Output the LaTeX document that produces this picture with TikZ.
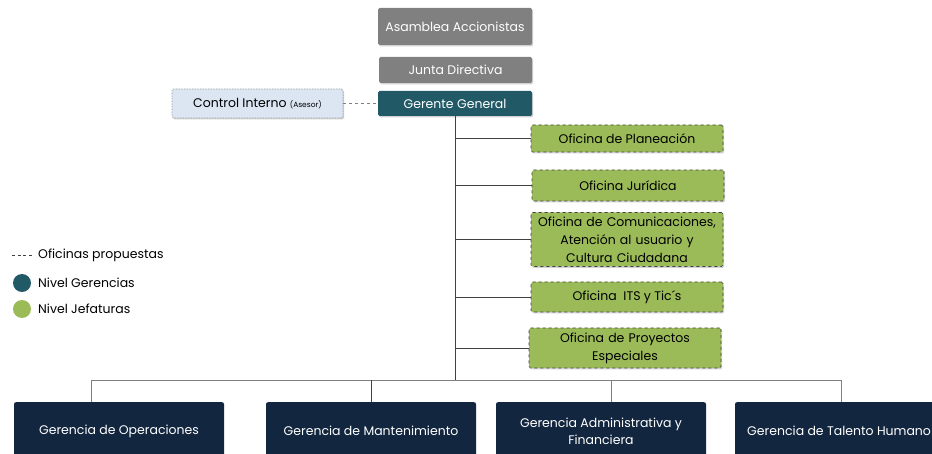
\documentclass[tikz,border=0pt]{standalone}
\usepackage{fontspec}
\setmainfont{Poppins}
\usetikzlibrary{shadows}
\definecolor{grayb}{HTML}{808080}
\definecolor{tealb}{HTML}{215967}
\definecolor{navyb}{HTML}{13263F}
\definecolor{greenb}{HTML}{9BBB59}
\definecolor{lblue}{HTML}{DCE6F2}
\definecolor{linec}{HTML}{404040}
\tikzset{
  x=1pt,y=-1pt,
  every node/.style={font=\fontsize{12.5}{15}\selectfont, inner sep=0pt, align=center},
  topbox/.style={rectangle, rounded corners=1.5pt, fill=grayb, text=white, drop shadow={shadow xshift=1pt,shadow yshift=-1.5pt,opacity=0.35}},
  gerbox/.style={rectangle, rounded corners=1.5pt, fill=tealb, text=white, drop shadow={shadow xshift=1pt,shadow yshift=-1.5pt,opacity=0.35}},
  ofbox/.style={rectangle, rounded corners=1.5pt, fill=greenb, draw=linec, dashed, line width=0.6pt, text=black, drop shadow={shadow xshift=1pt,shadow yshift=-1.5pt,opacity=0.35,draw=none}},
  ctrlbox/.style={rectangle, rounded corners=1.5pt, fill=lblue, draw=grayb, densely dotted, line width=0.6pt, text=black, drop shadow={shadow xshift=1pt,shadow yshift=-1.5pt,opacity=0.35,draw=none}},
  botbox/.style={rectangle, rounded corners=2pt, fill=navyb, text=white},
  conn/.style={draw=linec, line width=0.6pt},
  multi/.style={text width=190pt, font=\fontsize{12.5}{18}\selectfont},
}
\begin{document}
\begin{tikzpicture}
\useasboundingbox (0,0) rectangle (932,454);
\clip (0,0) rectangle (932,454);
\fill[white] (0,0) rectangle (932,454);

\node[topbox, minimum width=154pt, minimum height=37pt] (asam) at (455,26.5) {Asamblea Accionistas};
\node[topbox, minimum width=153pt, minimum height=26pt] (junta) at (455.5,70) {Junta Directiva};
\node[gerbox, minimum width=154pt, minimum height=25pt] (ger) at (455,103.5) {Gerente General};
\node[ctrlbox, minimum width=171pt, minimum height=29pt] (ctrl) at (257.5,103.5) {Control Interno {\fontsize{7.5}{9}\selectfont(Asesor)}};
\draw[conn, dashed, draw=grayb] (ctrl.east) -- (ger.west);

\node[ofbox, minimum width=192pt, minimum height=27pt] (of1) at (627,138.5) {Oficina de Planeación};
\node[ofbox, minimum width=192pt, minimum height=31pt] (of2) at (628,185.5) {Oficina Jurídica};
\node[ofbox, minimum width=192pt, minimum height=54pt, multi] (of3) at (627,239.5) {Oficina de Comunicaciones,\\Atención al usuario y\\Cultura Ciudadana};
\node[ofbox, minimum width=192pt, minimum height=30pt] (of4) at (627,297) {Oficina~ ITS y Tic´s};
\node[ofbox, minimum width=192pt, minimum height=40pt, multi] (of5) at (625,348) {Oficina de Proyectos\\Especiales};

\coordinate (spine) at (455,380);
\draw[conn] (ger.south) -- (spine);
\foreach \n in {of1,of2,of3,of4,of5}{
  \draw[conn] (\n.west) -- (ger.south |- \n.west);
}

\node[botbox, minimum width=210pt, minimum height=70pt, anchor=north] (b1) at (119,402) {};
\node[botbox, minimum width=210pt, minimum height=70pt, anchor=north] (b2) at (371,402) {};
\node[botbox, minimum width=210pt, minimum height=70pt, anchor=north] (b3) at (601,402) {};
\node[botbox, minimum width=210pt, minimum height=70pt, anchor=north] (b4) at (840,402) {};
\node[text=white] at (119,431) {Gerencia de Operaciones};
\node[text=white] at (371,431) {Gerencia de Mantenimiento};
\node[text=white, font=\fontsize{12.5}{17}\selectfont] at (601,431) {Gerencia Administrativa y\\Financiera};
\node[text=white, anchor=west] at (747,431) {Gerencia de Talento Humano};

\draw[conn, draw=grayb] (91,402) -- (91,380) -- (841,380) -- (841,402);
\draw[conn] (371,380) -- (b2.north);
\draw[conn, draw=grayb] (611,380) -- (611,402);

% legend
\draw[linec, line width=0.8pt, dash pattern=on 3.2pt off 2.4pt] (12,255) -- (32,255);
\node[anchor=west] at (38,255) {Oficinas propuestas};
\fill[tealb] (22,283) circle (9);
\node[anchor=west] at (38,283) {Nivel Gerencias};
\fill[greenb] (22,309) circle (9);
\node[anchor=west] at (38,309) {Nivel Jefaturas};
\end{tikzpicture}
\end{document}
